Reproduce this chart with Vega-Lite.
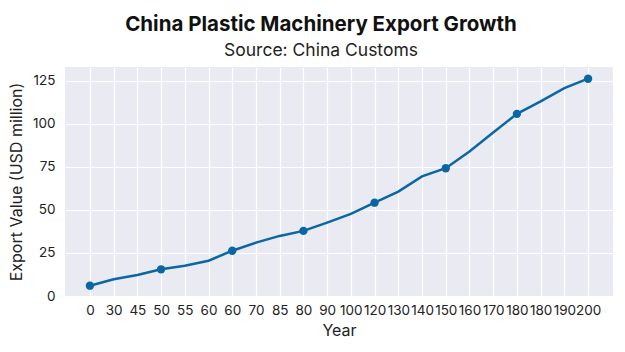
{
  "$schema": "https://vega.github.io/schema/vega-lite/v6.json",
  "width": 548,
  "height": 229,
  "autosize": "none",
  "padding": {"left": 65, "top": 67, "right": 12, "bottom": 56},
  "background": "white",
  "title": {
    "text": "China Plastic Machinery Export Growth",
    "subtitle": "Source: China Customs",
    "anchor": "middle",
    "frame": "group",
    "dx": -18,
    "offset": 8,
    "font": "Inter",
    "fontSize": 20.5,
    "fontWeight": "bold",
    "color": "#111111",
    "subtitleFont": "Inter",
    "subtitleFontSize": 17.5,
    "subtitleColor": "#222222",
    "subtitlePadding": 6
  },
  "config": {
    "view": {"fill": "#EAEAF2", "stroke": null},
    "axis": {
      "domain": false,
      "ticks": false,
      "gridColor": "white",
      "gridWidth": 1.2,
      "labelFont": "Inter",
      "labelColor": "#222222",
      "titleFont": "Inter",
      "titleFontWeight": "normal",
      "titleColor": "#222222",
      "titleFontSize": 16
    }
  },
  "data": {
    "values": [
      {"idx": 0, "value": 6},
      {"idx": 1, "value": 9.7},
      {"idx": 2, "value": 12.2},
      {"idx": 3, "value": 15.5},
      {"idx": 4, "value": 17.6},
      {"idx": 5, "value": 20.5},
      {"idx": 6, "value": 26.3},
      {"idx": 7, "value": 31},
      {"idx": 8, "value": 34.9},
      {"idx": 9, "value": 37.8},
      {"idx": 10, "value": 42.6},
      {"idx": 11, "value": 47.7},
      {"idx": 12, "value": 54.2},
      {"idx": 13, "value": 60.6},
      {"idx": 14, "value": 69.5},
      {"idx": 15, "value": 74.2},
      {"idx": 16, "value": 83.9},
      {"idx": 17, "value": 95},
      {"idx": 18, "value": 105.8},
      {"idx": 19, "value": 113},
      {"idx": 20, "value": 120.7},
      {"idx": 21, "value": 126.2}
    ]
  },
  "encoding": {
    "x": {
      "field": "idx",
      "type": "quantitative",
      "scale": {"domain": [-1.05, 22.05], "nice": false, "zero": false},
      "axis": {
        "title": "Year",
        "values": [0,1,2,3,4,5,6,7,8,9,10,11,12,13,14,15,16,17,18,19,20,21],
        "labelExpr": "['0','30','45','50','55','60','60','70','85','80','90','100','120','130','140','150','160','170','180','180','190','200'][datum.value]",
        "labelOverlap": false,
        "labelFlush": false,
        "labelFontSize": 13.5,
        "labelPadding": 7,
        "titlePadding": 6
      }
    },
    "y": {
      "field": "value",
      "type": "quantitative",
      "scale": {"domain": [0, 133], "nice": false},
      "axis": {
        "title": "Export Value (USD million)",
        "values": [0, 25, 50, 75, 100, 125],
        "labelFontSize": 13.5,
        "labelPadding": 10,
        "titlePadding": 8
      }
    }
  },
  "layer": [
    {
      "mark": {"type": "line", "color": "#0b67a3", "strokeWidth": 2.5}
    },
    {
      "transform": [{"filter": "datum.idx % 3 == 0"}],
      "mark": {"type": "circle", "color": "#0b67a3", "opacity": 1, "size": 70}
    }
  ]
}
